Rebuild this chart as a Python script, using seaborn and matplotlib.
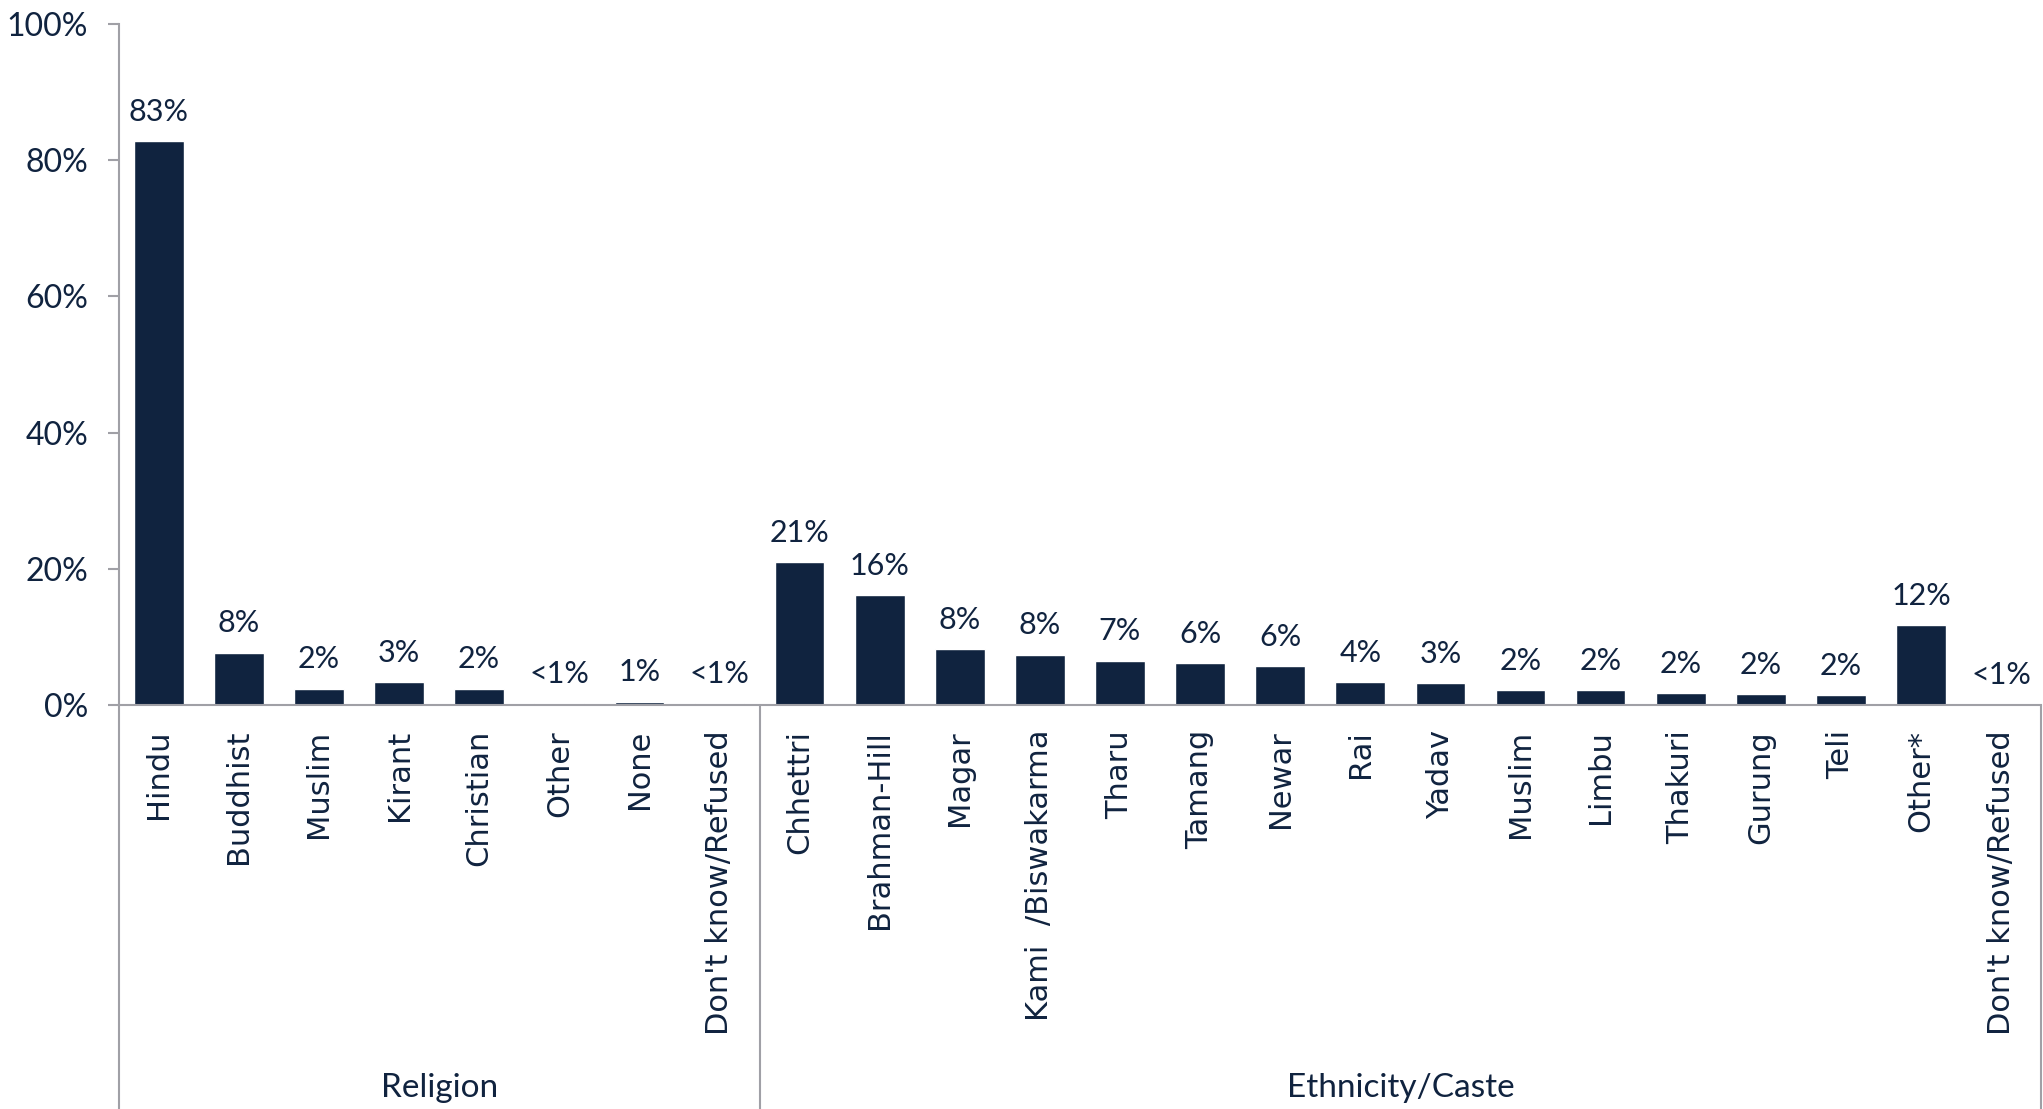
import matplotlib
matplotlib.use('Agg')
import pandas as pd
import matplotlib.pyplot as plt
import seaborn as sns
from matplotlib import font_manager

# --- data ---
religion = ['Hindu', 'Buddhist', 'Muslim', 'Kirant', 'Christian', 'Other',
            'None', "Don't know/Refused"]
religion_pct = [82.8, 7.7, 2.4, 3.4, 2.4, 0.25, 0.5, 0.3]
religion_lbl = ['83%', '8%', '2%', '3%', '2%', '<1%', '1%', '<1%']

ethnicity = ['Chhettri', 'Brahman-Hill', 'Magar', 'Kami  /Biswakarma', 'Tharu',
             'Tamang', 'Newar', 'Rai', 'Yadav', 'Muslim', 'Limbu', 'Thakuri',
             'Gurung', 'Teli', 'Other*', "Don't know/Refused"]
ethnicity_pct = [21.0, 16.1, 8.2, 7.4, 6.5, 6.1, 5.7, 3.4, 3.2, 2.2, 2.2,
                 1.7, 1.6, 1.4, 11.7, 0.1]
ethnicity_lbl = ['21%', '16%', '8%', '8%', '7%', '6%', '6%', '4%', '3%', '2%',
                 '2%', '2%', '2%', '2%', '12%', '<1%']

groups = ['Religion', 'Ethnicity/Caste']
y_ticks = [0, 20, 40, 60, 80, 100]

NAVY = '#10233f'
GRAY = '#a0a0a6'

sns.set_style('white')
installed = {f.name for f in font_manager.fontManager.ttflist}
num_font = 'Liberation Sans Narrow' if 'Liberation Sans Narrow' in installed else 'Lato'
plt.rcParams['font.family'] = ['DejaVu Sans']

df = pd.DataFrame({
    'group': [groups[0]] * len(religion) + [groups[1]] * len(ethnicity),
    'category': religion + ethnicity,
    'pct': religion_pct + ethnicity_pct,
    'label': religion_lbl + ethnicity_lbl,
})
df['key'] = df['group'] + ': ' + df['category']
n_rel = len(religion)
n_all = len(df)

fig = plt.figure(figsize=(20.43, 11.09), dpi=100)
ax = fig.add_axes([0.0581, 0.3643, 0.9410, 0.6141])

sns.barplot(data=df, x='key', y='pct', color=NAVY, saturation=1,
            width=0.62, ax=ax)
ax.bar_label(ax.containers[0], labels=df['label'], padding=11,
             fontsize=22, color=NAVY, family=num_font)

ax.set_xlim(-0.5, n_all - 0.5)
ax.set_ylim(0, 100)
ax.set_xlabel('')
ax.set_ylabel('')

for side in ['top', 'right']:
    ax.spines[side].set_visible(False)
for side in ['left', 'bottom']:
    ax.spines[side].set_color(GRAY)
    ax.spines[side].set_linewidth(1.5)

# group separators running down through the category labels
for xs in [-0.5, n_rel - 0.5, n_all - 0.5]:
    ax.plot([xs, xs], [0, -0.6], transform=ax.get_xaxis_transform(),
            color=GRAY, lw=1.5, clip_on=False)

ax.set_yticks(y_ticks)
ax.set_yticklabels([f'{t}%' for t in y_ticks], family=num_font)
ax.tick_params(axis='y', length=8, width=1.5, color=GRAY, pad=14,
               labelsize=23, labelcolor=NAVY, left=True)

ax.set_xticks(range(n_all))
ax.set_xticklabels(df['category'], rotation=90, family='DejaVu Sans')
ax.tick_params(axis='x', length=0, pad=18, labelsize=22, labelcolor=NAVY)

ax.text((n_rel - 1) / 2, -0.5624, groups[0], transform=ax.get_xaxis_transform(),
        ha='center', va='center', fontsize=24, color=NAVY, family=num_font)
ax.text((n_rel + n_all - 1) / 2, -0.5624, groups[1],
        transform=ax.get_xaxis_transform(),
        ha='center', va='center', fontsize=24, color=NAVY, family=num_font)

fig.savefig('out.png', dpi=100)
